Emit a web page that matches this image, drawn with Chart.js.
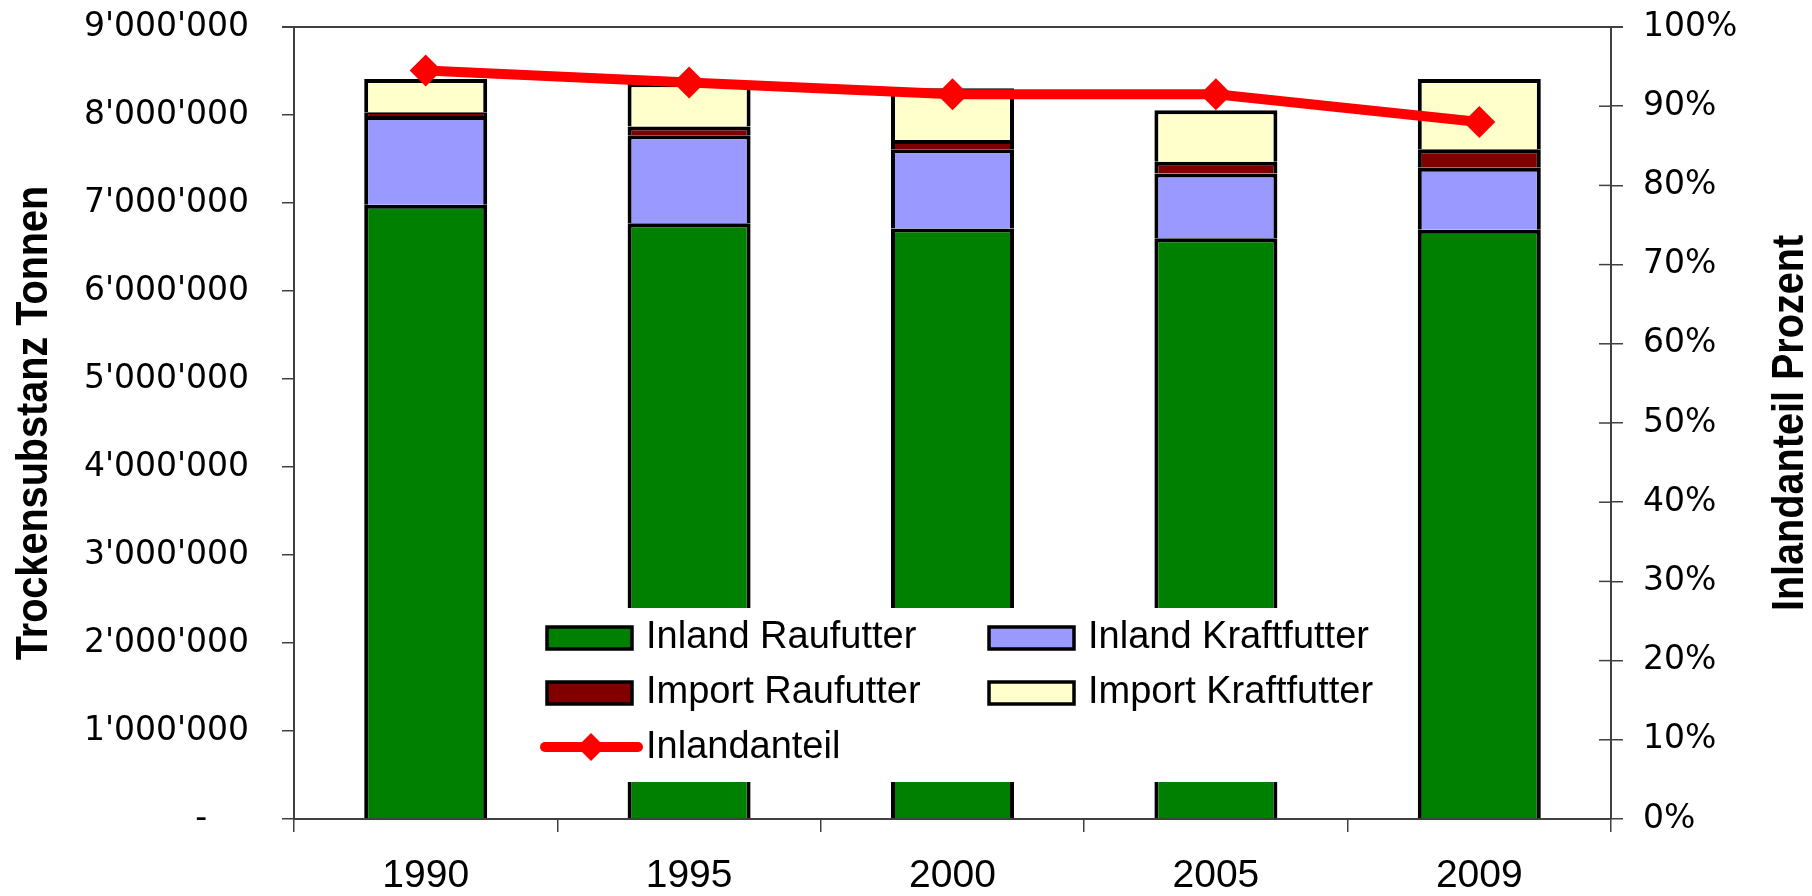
<!DOCTYPE html>
<html>
<head>
<meta charset="utf-8">
<script src="https://cdn.jsdelivr.net/npm/chart.js@4/dist/chart.umd.min.js"></script>
<style>
  html, body { margin: 0; padding: 0; background: #fff; }
  #wrap { width: 1812px; height: 896px; position: relative; }
</style>
</head>
<body>
<div id="wrap"><canvas id="futterChart"></canvas></div>
<script>
// Daten (Trockensubstanz in Tonnen)
const years = ['1990', '1995', '2000', '2005', '2009'];
const inlandRaufutter = [6980000, 6770000, 6710000, 6600000, 6695000];
const inlandKraftfutter = [1010000, 1000000, 900000, 735000, 705000];
const importRaufutter = [40000, 100000, 105000, 135000, 210000];
const importKraftfutter = [380000, 490000, 590000, 585000, 800000];
const inlandanteil = [94.5, 93.0, 91.5, 91.5, 88.0];   // Prozent

const leftTicks = [0, 1000000, 2000000, 3000000, 4000000, 5000000, 6000000, 7000000, 8000000, 9000000];
const rightTicks = [0, 10, 20, 30, 40, 50, 60, 70, 80, 90, 100];
const leftTitle = 'Trockensubstanz Tonnen';
const rightTitle = 'Inlandanteil Prozent';

const arial = '"Liberation Sans", Arial, sans-serif';
const wide = '"DejaVu Sans", Verdana, sans-serif';
const axisGrey = '#404040';

function tausender(v) {
  if (v === 0) return '-    ';
  return String(v).replace(/\B(?=(\d{3})+(?!\d))/g, "'");
}

// schmale, fette Achsentitel (von unten nach oben)
function drawTitle(ctx, text, x, y) {
  ctx.save();
  ctx.translate(x, y);
  ctx.rotate(-Math.PI / 2);
  ctx.scale(0.9, 1);
  ctx.fillStyle = '#000';
  ctx.font = 'bold 44px ' + arial;
  ctx.textAlign = 'center';
  ctx.textBaseline = 'alphabetic';
  ctx.fillText(text, 0, 0);
  ctx.restore();
}

const extras = {
  id: 'extras',
  afterDraw(chart) {
    const ctx = chart.ctx;
    const a = chart.chartArea;
    const y1 = chart.scales.y1;
    ctx.save();

    // obere Begrenzung der Zeichenfläche
    ctx.strokeStyle = axisGrey;
    ctx.lineWidth = 2;
    ctx.beginPath();
    ctx.moveTo(a.left - 12, a.top);
    ctx.lineTo(a.right + 12, a.top);
    ctx.stroke();

    // Ticks der rechten Achse auch nach innen
    ctx.lineWidth = 1.5;
    rightTicks.forEach(t => {
      const py = y1.getPixelForValue(t);
      ctx.beginPath();
      ctx.moveTo(a.right - 12, py);
      ctx.lineTo(a.right, py);
      ctx.stroke();
    });
    ctx.restore();

    const midY = (a.top + a.bottom) / 2;
    drawTitle(ctx, leftTitle, 47, midY);
    drawTitle(ctx, rightTitle, 1803, midY);

    // Legende in der Zeichenfläche
    ctx.save();
    const bx = a.left + 243, by = 608;
    ctx.fillStyle = '#fff';
    ctx.fillRect(bx, by, 862, 174);
    ctx.font = '38px ' + arial;
    ctx.textBaseline = 'alphabetic';
    ctx.textAlign = 'left';
    chart.data.datasets.forEach((ds, i) => {
      const col = i % 2, row = Math.floor(i / 2);
      const sx = bx + 10 + col * 442;
      const cy = 638 + row * 55;
      if (ds.type === 'line') {
        ctx.strokeStyle = ds.borderColor;
        ctx.lineWidth = 10;
        ctx.lineCap = 'round';
        ctx.beginPath();
        ctx.moveTo(sx - 2, cy - 1);
        ctx.lineTo(sx + 91, cy - 1);
        ctx.stroke();
        ctx.fillStyle = ds.borderColor;
        ctx.beginPath();
        ctx.moveTo(sx + 44 - 14, cy - 1);
        ctx.lineTo(sx + 44, cy - 15);
        ctx.lineTo(sx + 44 + 14, cy - 1);
        ctx.lineTo(sx + 44, cy + 13);
        ctx.closePath();
        ctx.fill();
      } else {
        ctx.fillStyle = ds.backgroundColor;
        ctx.fillRect(sx, cy - 11, 85, 22);
        ctx.strokeStyle = '#000';
        ctx.lineWidth = 3.5;
        ctx.strokeRect(sx, cy - 11, 85, 22);
      }
      ctx.fillStyle = '#000';
      ctx.fillText(ds.label, sx + 99, cy + 10);
    });
    ctx.restore();
  }
};

const barStyle = { borderColor: '#000', borderWidth: 4, borderSkipped: 'bottom', order: 1,
                   barPercentage: 0.467, categoryPercentage: 1.0 };

const ctx = document.getElementById('futterChart').getContext('2d');
new Chart(ctx, {
  data: {
    labels: years,
    datasets: [
      Object.assign({ type: 'bar', label: 'Inland Raufutter', data: inlandRaufutter, backgroundColor: '#008000', yAxisID: 'y' }, barStyle),
      Object.assign({ type: 'bar', label: 'Inland Kraftfutter', data: inlandKraftfutter, backgroundColor: '#9999FF', yAxisID: 'y' }, barStyle),
      Object.assign({ type: 'bar', label: 'Import Raufutter', data: importRaufutter, backgroundColor: '#800000', yAxisID: 'y' }, barStyle),
      Object.assign({ type: 'bar', label: 'Import Kraftfutter', data: importKraftfutter, backgroundColor: '#FFFFCC', yAxisID: 'y' }, barStyle),
      {
        type: 'line', label: 'Inlandanteil', data: inlandanteil, yAxisID: 'y1', order: 0,
        borderColor: '#FF0000', borderWidth: 10, backgroundColor: '#FF0000',
        pointStyle: 'rectRot', pointRadius: 16, pointBorderWidth: 0,
        pointBackgroundColor: '#FF0000', tension: 0
      }
    ]
  },
  options: {
    responsive: true,
    maintainAspectRatio: false,
    animation: false,
    layout: { padding: { top: 27, left: 0, right: 0, bottom: 0 } },
    plugins: {
      legend: { display: false },
      tooltip: { enabled: false }
    },
    scales: {
      x: {
        stacked: true,
        offset: true,
        grid: { offset: true, drawOnChartArea: false, tickLength: 13, color: axisGrey, lineWidth: 1.5 },
        border: { color: axisGrey, width: 2 },
        ticks: { color: '#000', padding: 21, font: { family: arial, size: 39 } },
        afterFit(scale) { scale.height = 77; }
      },
      y: {
        stacked: true,
        position: 'left',
        min: 0,
        max: 9000000,
        grid: { drawOnChartArea: false, tickLength: 12, color: axisGrey, lineWidth: 1.5 },
        border: { color: axisGrey, width: 2 },
        afterBuildTicks(scale) { scale.ticks = leftTicks.map(v => ({ value: v })); },
        ticks: {
          color: '#000', padding: 33, font: { family: wide, size: 33 },
          callback: v => tausender(v)
        },
        afterFit(scale) { scale.width = 294; scale.paddingTop = 0; scale.paddingBottom = 0; }
      },
      y1: {
        position: 'right',
        min: 0,
        max: 100,
        grid: { drawOnChartArea: false, tickLength: 12, color: axisGrey, lineWidth: 1.5 },
        border: { color: axisGrey, width: 2 },
        afterBuildTicks(scale) { scale.ticks = rightTicks.map(v => ({ value: v })); },
        ticks: {
          color: '#000', padding: 20, font: { family: wide, size: 33 },
          callback: v => v + '%'
        },
        afterFit(scale) { scale.width = 201; scale.paddingTop = 0; scale.paddingBottom = 0; }
      }
    }
  },
  plugins: [extras]
});
</script>
</body>
</html>
